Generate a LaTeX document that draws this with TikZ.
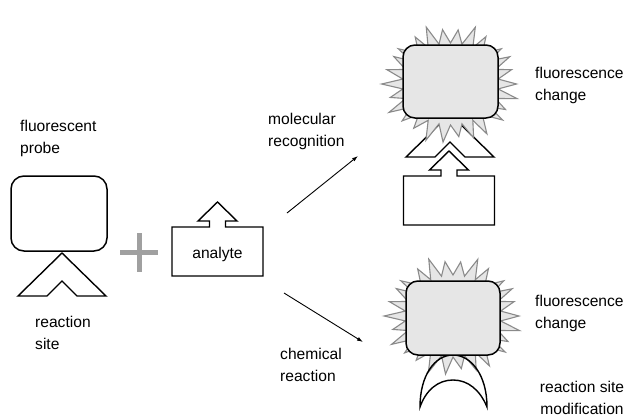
\documentclass[tikz,border=0pt]{standalone}
\usepackage{fontspec}
\setmainfont{Liberation Sans}
\usetikzlibrary{arrows.meta}
\definecolor{starfill}{HTML}{E6E6E6}
\definecolor{stargray}{HTML}{8A8A8A}
\definecolor{plusgray}{HTML}{A0A0A0}
\newcommand\burstpath[2]{%
  \draw[burst] ({#1+66},{#2}) \foreach \k in {1,...,51}{ -- ({#1+(48+(18+4*sin(\k*71))*(1-mod(\k,2)))*cos(\k*6.9230769)},{#2+(41+(16+4*sin(\k*53))*(1-mod(\k,2)))*sin(\k*6.9230769)}) } -- cycle;}
\begin{document}
\begin{tikzpicture}[x=1pt,y=-1pt,
  outline/.style={draw=black, line width=1.4pt, line join=miter, fill=white},
  box/.style={draw=black, line width=1.5pt, rounded corners=12pt, fill=starfill},
  probebox/.style={draw=black, line width=1.5pt, rounded corners=13pt, fill=white},
  burst/.style={draw=stargray, fill=starfill, line width=1.1pt, line join=miter},
  lbl/.style={font=\fontsize{15.6}{22}\selectfont, inner sep=0pt, align=left, anchor=base west},
  conn/.style={-{Latex[length=6pt,width=4pt]}, line width=0.9pt},
  chev/.pic={\draw[outline] (0,0) -- (44,43) -- (15,43) -- (0,28) -- (-15,43) -- (-44,43) -- cycle;},
  anal/.pic={\draw[outline] (-45.5,49) -- (-45.5,0) -- (-8,0) -- (-8,-6) -- (-19.5,-6) -- (0,-25) -- (19.5,-6) -- (8,-6) -- (8,0) -- (45.5,0) -- (45.5,49) -- cycle;},
]
\useasboundingbox (0,0) rectangle (630,418);

% left probe
\draw[probebox] (11,176) rectangle (107,251);
\pic (chevL) at (62,253) {chev};
\node[lbl] (fp) at (20,153) {fluorescent\\probe};
\node[lbl] (rs) at (35,349) {reaction\\site};

% plus
\draw[plusgray, line width=5pt] (120,252) -- (158,252) (139,233) -- (139,272);

% analyte
\pic (analL) at (217.5,227) {anal};
\node[lbl, anchor=base, align=center] (an) at (217.5,258) {analyte};

% arrows
\coordinate (mrA) at (287,213);
\coordinate (mrB) at (358,156);
\coordinate (crA) at (284,293);
\coordinate (crB) at (363,342);
\draw[conn] (mrA) -- (mrB);
\draw[conn] (crA) -- (crB);
\node[lbl] (mr) at (268,146) {molecular\\recognition};
\node[lbl] (cr) at (280,381) {chemical\\reaction};

% top right: recognition
\pic (chevT) at (450,114) {chev};
\burstpath{450.5}{84}
\draw[box] (403,45) rectangle (498,118);
\pic (analT) at (449,176) {anal};
\node[lbl] (fc1) at (535,100) {fluorescence\\change};

% bottom right: reaction
\burstpath{453}{316}
\draw[line width=1.4pt] (420,407) .. controls (420,375) and (435,355) .. (453,355) .. controls (471,355) and (487,375) .. (487,407) .. controls (480,390) and (468,380) .. (453,380) .. controls (438,380) and (426,390) .. (420,407) -- cycle;
\draw[box] (406,281) rectangle (500,355);
\node[lbl] (fc2) at (535,328) {fluorescence\\change};
\node[lbl, anchor=base, align=center] (rsm) at (582,414) {reaction site\\modification};
\end{tikzpicture}
\end{document}
